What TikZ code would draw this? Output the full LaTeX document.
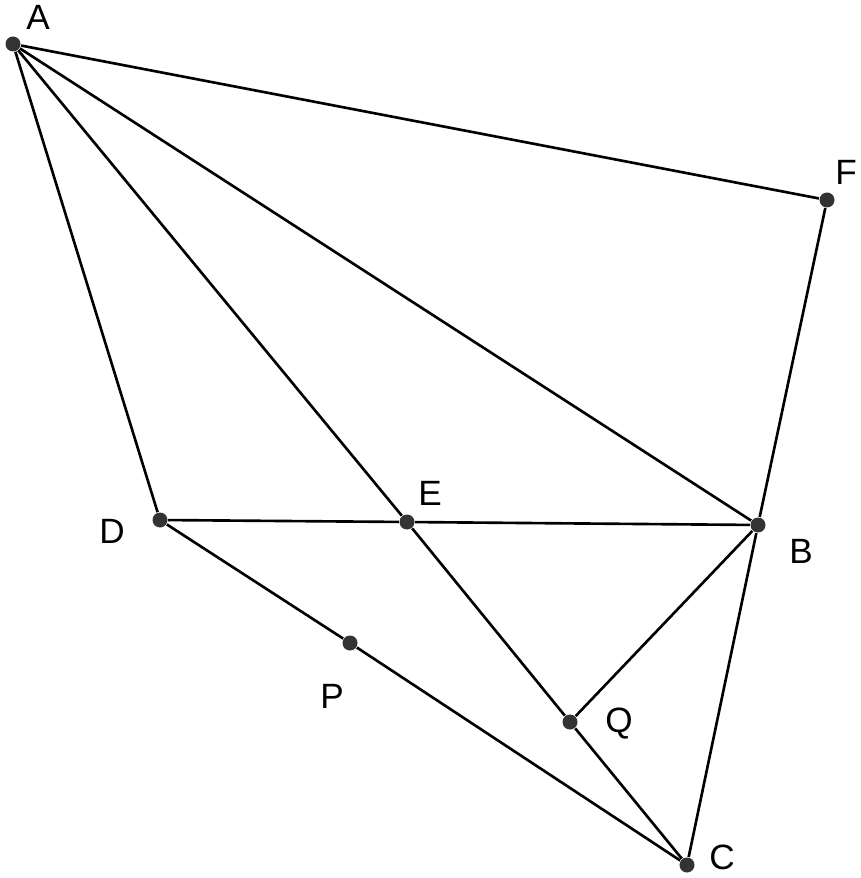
\documentclass[tikz,border=0pt]{standalone}
\usepackage{fontspec}
\setmainfont{Liberation Sans}
\begin{document}
\begin{tikzpicture}[
		x=1cm, y=-1cm,
		pt/.style={circle, fill=black!80, inner sep=0pt, minimum size=0.15cm},
		lbl/.style={font=\fontsize{10}{12}\selectfont, inner sep=0pt},
		seg/.style={line width=0.75pt}
	]
	\useasboundingbox (0,0) rectangle (8.61,8.78);

	% Points
	\node[pt] (a) at (0.13,0.44) {};
	\node[pt] (f) at (8.27,2.00) {};
	\node[pt] (d) at (1.60,5.20) {};
	\node[pt] (e) at (4.07,5.22) {};
	\node[pt] (b) at (7.58,5.25) {};
	\node[pt] (p) at (3.50,6.43) {};
	\node[pt] (q) at (5.70,7.22) {};
	\node[pt] (c) at (6.87,8.65) {};

	% Connections
	\draw[seg] (a) -- (f);
	\draw[seg] (f) -- (b);
	\draw[seg] (a) -- (d);
	\draw[seg] (a) -- (e);
	\draw[seg] (a) -- (b);

	\draw[seg] (d) -- (e);
	\draw[seg] (e) -- (b);
	\draw[seg] (d) -- (p);
	\draw[seg] (p) -- (c);

	\draw[seg] (e) -- (q);
	\draw[seg] (q) -- (c);
	\draw[seg] (b) -- (q);
	\draw[seg] (b) -- (c);

	% Labels
	\node[lbl] (la) at (0.38,0.17) {A};
	\node[lbl] (lf) at (8.46,1.72) {F};
	\node[lbl] (ld) at (1.12,5.31) {D};
	\node[lbl] (le) at (4.30,4.93) {E};
	\node[lbl] (lb) at (8.01,5.51) {B};
	\node[lbl] (lp) at (3.32,6.96) {P};
	\node[lbl] (lq) at (6.19,7.24) {Q};
	\node[lbl] (lc) at (7.22,8.57) {C};
\end{tikzpicture}
\end{document}
